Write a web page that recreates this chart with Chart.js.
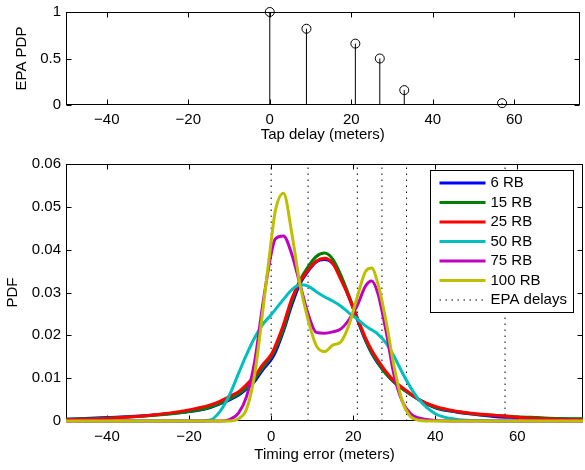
<!DOCTYPE html>
<html>
<head>
<meta charset="utf-8">
<script src="https://cdn.jsdelivr.net/npm/chart.js@4/dist/chart.umd.min.js"></script>
<style>
  body { margin: 0; background: #fff; }
  #wrap { position: relative; width: 585px; height: 470px; }
  canvas { position: absolute; left: 0; }
  #pdpChart { top: 0; }
  #pdfChart { top: 145px; }
</style>
</head>
<body>
<div id="wrap">
  <canvas id="pdpChart" width="585" height="145"></canvas>
  <canvas id="pdfChart" width="585" height="325"></canvas>
</div>
<script>
// EPA channel taps (delay in meters) and their relative power
const tapDelay = [0, 9, 21, 27, 33, 57];
const epaPdp = [1, 0.82, 0.66, 0.5, 0.16, 0.02];

const xTicks = [-40, -20, 0, 20, 40, 60];
const pdpTicks = [0, 0.5, 1];
const pdfTicks = [0, 0.01, 0.02, 0.03, 0.04, 0.05, 0.06];

// timing error grid (meters) for the PDF curves
const timingError = [-50, -40, -30, -20, -15, -12.5, -10, -8, -6, -4, -2, 0, 1, 3, 5, 7, 9, 11, 13, 15, 17,
  19, 21, 23, 24.5, 26, 28, 30, 32, 34, 36, 40, 45, 50, 55, 60, 65, 70, 76];

const rb6 = [0.0004, 0.0008, 0.0013, 0.0022, 0.0031, 0.004, 0.005, 0.006, 0.0075, 0.0093, 0.012,
  0.0143, 0.016, 0.021, 0.027, 0.032, 0.035, 0.0372, 0.0377, 0.0368, 0.0335,
  0.0288, 0.0237, 0.0188, 0.0158, 0.0135, 0.011, 0.009, 0.0075, 0.0062, 0.005,
  0.0031, 0.0021, 0.0015, 0.001, 0.0008, 0.0006, 0.0005, 0.0004];
const rb15 = [0.0004, 0.0007, 0.0012, 0.0022, 0.0032, 0.0041, 0.0052, 0.0063, 0.0078, 0.0098, 0.0125,
  0.015, 0.0168, 0.0215, 0.0278, 0.0328, 0.036, 0.0384, 0.0392, 0.0378, 0.034,
  0.0292, 0.024, 0.019, 0.016, 0.0137, 0.011, 0.009, 0.0075, 0.0062, 0.005,
  0.0032, 0.0022, 0.0016, 0.0013, 0.001, 0.0008, 0.0006, 0.0005];
const rb25 = [0.0003, 0.0006, 0.0013, 0.0026, 0.0037, 0.0046, 0.0058, 0.0068, 0.0085, 0.0105, 0.0132,
  0.0155, 0.0175, 0.0225, 0.0285, 0.0325, 0.0352, 0.0373, 0.038, 0.0368, 0.033,
  0.0288, 0.024, 0.0194, 0.0165, 0.0142, 0.0115, 0.0093, 0.0078, 0.0064, 0.005,
  0.0034, 0.0023, 0.0017, 0.0013, 0.0009, 0.0006, 0.0004, 0.0003];
const rb50 = [0, 0, 0, 0, 0.0002, 0.0022, 0.0064, 0.011, 0.0155, 0.0195, 0.0226,
  0.0248, 0.026, 0.0284, 0.0306, 0.0318, 0.0315, 0.0302, 0.029, 0.028, 0.0268,
  0.0252, 0.0238, 0.0222, 0.0213, 0.0203, 0.0182, 0.015, 0.0112, 0.0078, 0.005,
  0.0017, 0.0004, 0.0001, 0, 0, 0, 0, 0];
const rb75 = [0, 0, 0, 0, 0, 0, 0.0004, 0.0018, 0.0057, 0.014, 0.0275,
  0.039, 0.0425, 0.0432, 0.039, 0.032, 0.025, 0.0207, 0.0205, 0.0208, 0.0215,
  0.0237, 0.027, 0.0315, 0.0327, 0.0298, 0.021, 0.0105, 0.0045, 0.0017, 0.0007,
  0.0001, 0, 0, 0, 0, 0, 0, 0];
const rb100 = [0, 0, 0, 0, 0, 0, 0, 0.0005, 0.0028, 0.011, 0.026,
  0.042, 0.049, 0.0532, 0.044, 0.032, 0.0236, 0.0176, 0.0162, 0.0177, 0.0185,
  0.0225, 0.029, 0.0349, 0.0357, 0.0321, 0.0233, 0.0125, 0.0045, 0.001, 0.0002,
  0, 0, 0, 0, 0, 0, 0, 0];

const seriesLabels = ['6 RB', '15 RB', '25 RB', '50 RB', '75 RB', '100 RB'];
const seriesValues = [rb6, rb15, rb25, rb50, rb75, rb100];
const seriesColors = ['#0000ff', '#008000', '#ff0000', '#00bfbf', '#bf00bf', '#bfbf00'];

const FONT = '"Liberation Sans", Arial, Helvetica, sans-serif';
Chart.defaults.font.family = FONT;
Chart.defaults.font.size = 15;
Chart.defaults.color = '#000';

function fmtX(v) {
    return v < 0 ? '\u2212' + Math.abs(v) : String(v);
}

// box around the axes with matlab style inward ticks
const axesBox = {
    id: 'axesBox',
    beforeDatasetsDraw(chart) {
        const {ctx, chartArea: a, scales} = chart;
        const L = Math.round(a.left) + 0.5, R = Math.round(a.right) - 0.5;
        const T = Math.round(a.top) + 0.5, B = Math.round(a.bottom) - 0.5;
        ctx.save();
        ctx.strokeStyle = '#000';
        ctx.lineWidth = 1;
        ctx.beginPath();
        scales.x.ticks.forEach(t => {
            const px = Math.round(scales.x.getPixelForValue(t.value)) + 0.5;
            ctx.moveTo(px, B); ctx.lineTo(px, B - 5);
            ctx.moveTo(px, T); ctx.lineTo(px, T + 5);
        });
        scales.y.ticks.forEach(t => {
            const py = Math.round(scales.y.getPixelForValue(t.value)) + 0.5;
            ctx.moveTo(L, py); ctx.lineTo(L + 5, py);
            ctx.moveTo(R, py); ctx.lineTo(R - 5, py);
        });
        ctx.stroke();
        ctx.strokeRect(L, T, R - L, B - T);
        ctx.restore();
    }
};

// legend box drawn inside the plot, upper right
const boxLegend = {
    id: 'boxLegend',
    afterDraw(chart) {
        const {ctx, chartArea: a} = chart;
        const w = 143, h = 142, rowH = 19.5;
        const x0 = Math.round(a.right - 10 - w) + 0.5;
        const y0 = Math.round(a.top + 6) + 0.5;
        ctx.save();
        ctx.fillStyle = '#fff';
        ctx.fillRect(x0, y0, w, h);
        ctx.strokeStyle = '#000';
        ctx.lineWidth = 1;
        ctx.strokeRect(x0, y0, w, h);
        ctx.font = '15px ' + FONT;
        ctx.textBaseline = 'middle';
        chart.data.datasets.forEach((ds, i) => {
            const y = y0 + 12.5 + i * rowH;
            ctx.beginPath();
            ctx.setLineDash(ds.borderDash || []);
            ctx.strokeStyle = ds.borderColor;
            ctx.lineWidth = ds.borderWidth;
            ctx.moveTo(x0 + 9, y);
            ctx.lineTo(x0 + 55, y);
            ctx.stroke();
            ctx.setLineDash([]);
            ctx.fillStyle = '#000';
            ctx.fillText(ds.label, x0 + 60, y);
        });
        ctx.restore();
    }
};

function xScale(title, height, titleBottom, tickPad) {
    return {
        type: 'linear',
        min: -50,
        max: 76,
        afterBuildTicks: s => { s.ticks = xTicks.map(v => ({value: v})); },
        afterFit: s => { s.height = height; s.paddingLeft = 0; s.paddingRight = 0; },
        grid: { display: false, drawTicks: false },
        border: { display: false },
        ticks: { padding: tickPad, maxRotation: 0, autoSkip: false, callback: fmtX },
        title: { display: true, text: title, padding: { top: 0, bottom: titleBottom } }
    };
}

function yScale(title, max, ticks, titleTop, fmt) {
    return {
        type: 'linear',
        min: 0,
        max: max,
        afterBuildTicks: s => { s.ticks = ticks.map(v => ({value: v})); },
        afterFit: s => { s.width = 66; s.paddingTop = 0; s.paddingBottom = 0; },
        grid: { display: false, drawTicks: false },
        border: { display: false },
        ticks: { padding: 5, autoSkip: false, callback: fmt },
        title: { display: true, text: title, padding: { top: titleTop, bottom: 0 } }
    };
}

// top: EPA power delay profile as stems
const stemPoints = tapDelay.flatMap((d, i) => [{x: d, y: 0}, {x: d, y: epaPdp[i]}, {x: d, y: null}]);
const tapPoints = tapDelay.map((d, i) => ({x: d, y: epaPdp[i]}));

new Chart(document.getElementById('pdpChart'), {
    type: 'line',
    data: {
        datasets: [
            {
                data: tapPoints,
                showLine: false,
                pointRadius: 4.5,
                pointBorderColor: '#000',
                pointBackgroundColor: 'rgba(0,0,0,0)',
                pointBorderWidth: 1,
                clip: false
            },
            {
                data: stemPoints,
                borderColor: '#000',
                borderWidth: 1,
                pointRadius: 0,
                spanGaps: false
            }
        ]
    },
    options: {
        responsive: false,
        animation: false,
        devicePixelRatio: 1,
        layout: { padding: { top: 12, right: 2, left: 0, bottom: 0 } },
        plugins: { legend: { display: false }, tooltip: { enabled: false } },
        scales: {
            x: xScale('Tap delay (meters)', 40, 1, 6),
            y: yScale('EPA PDP', 1, pdpTicks, 13, v => String(v))
        }
    },
    plugins: [axesBox]
});

// bottom: timing error PDFs
const pdfSets = seriesLabels.map((label, i) => ({
    label: label,
    data: timingError.map((t, j) => ({x: t, y: seriesValues[i][j]})),
    borderColor: seriesColors[i],
    borderWidth: 3,
    pointRadius: 0,
    cubicInterpolationMode: 'monotone',
    clip: false,
    order: seriesLabels.length - i
}));

const delayLines = tapDelay.flatMap(d => [{x: d, y: 0}, {x: d, y: 0.06}, {x: d, y: null}]);
pdfSets.push({
    label: 'EPA delays',
    data: delayLines,
    borderColor: '#000',
    borderWidth: 1,
    borderDash: [1.5, 4.5],
    pointRadius: 0,
    spanGaps: false,
    order: 10
});

new Chart(document.getElementById('pdfChart'), {
    type: 'line',
    data: { datasets: pdfSets },
    options: {
        responsive: false,
        animation: false,
        devicePixelRatio: 1,
        layout: { padding: { top: 19, right: 2, left: 0, bottom: 0 } },
        plugins: { legend: { display: false }, tooltip: { enabled: false } },
        scales: {
            x: xScale('Timing error (meters)', 49, 6, 7),
            y: yScale('PDF', 0.06, pdfTicks, 3.5, v => v === 0 ? '0' : v.toFixed(2))
        }
    },
    plugins: [axesBox, boxLegend]
});
</script>
</body>
</html>
